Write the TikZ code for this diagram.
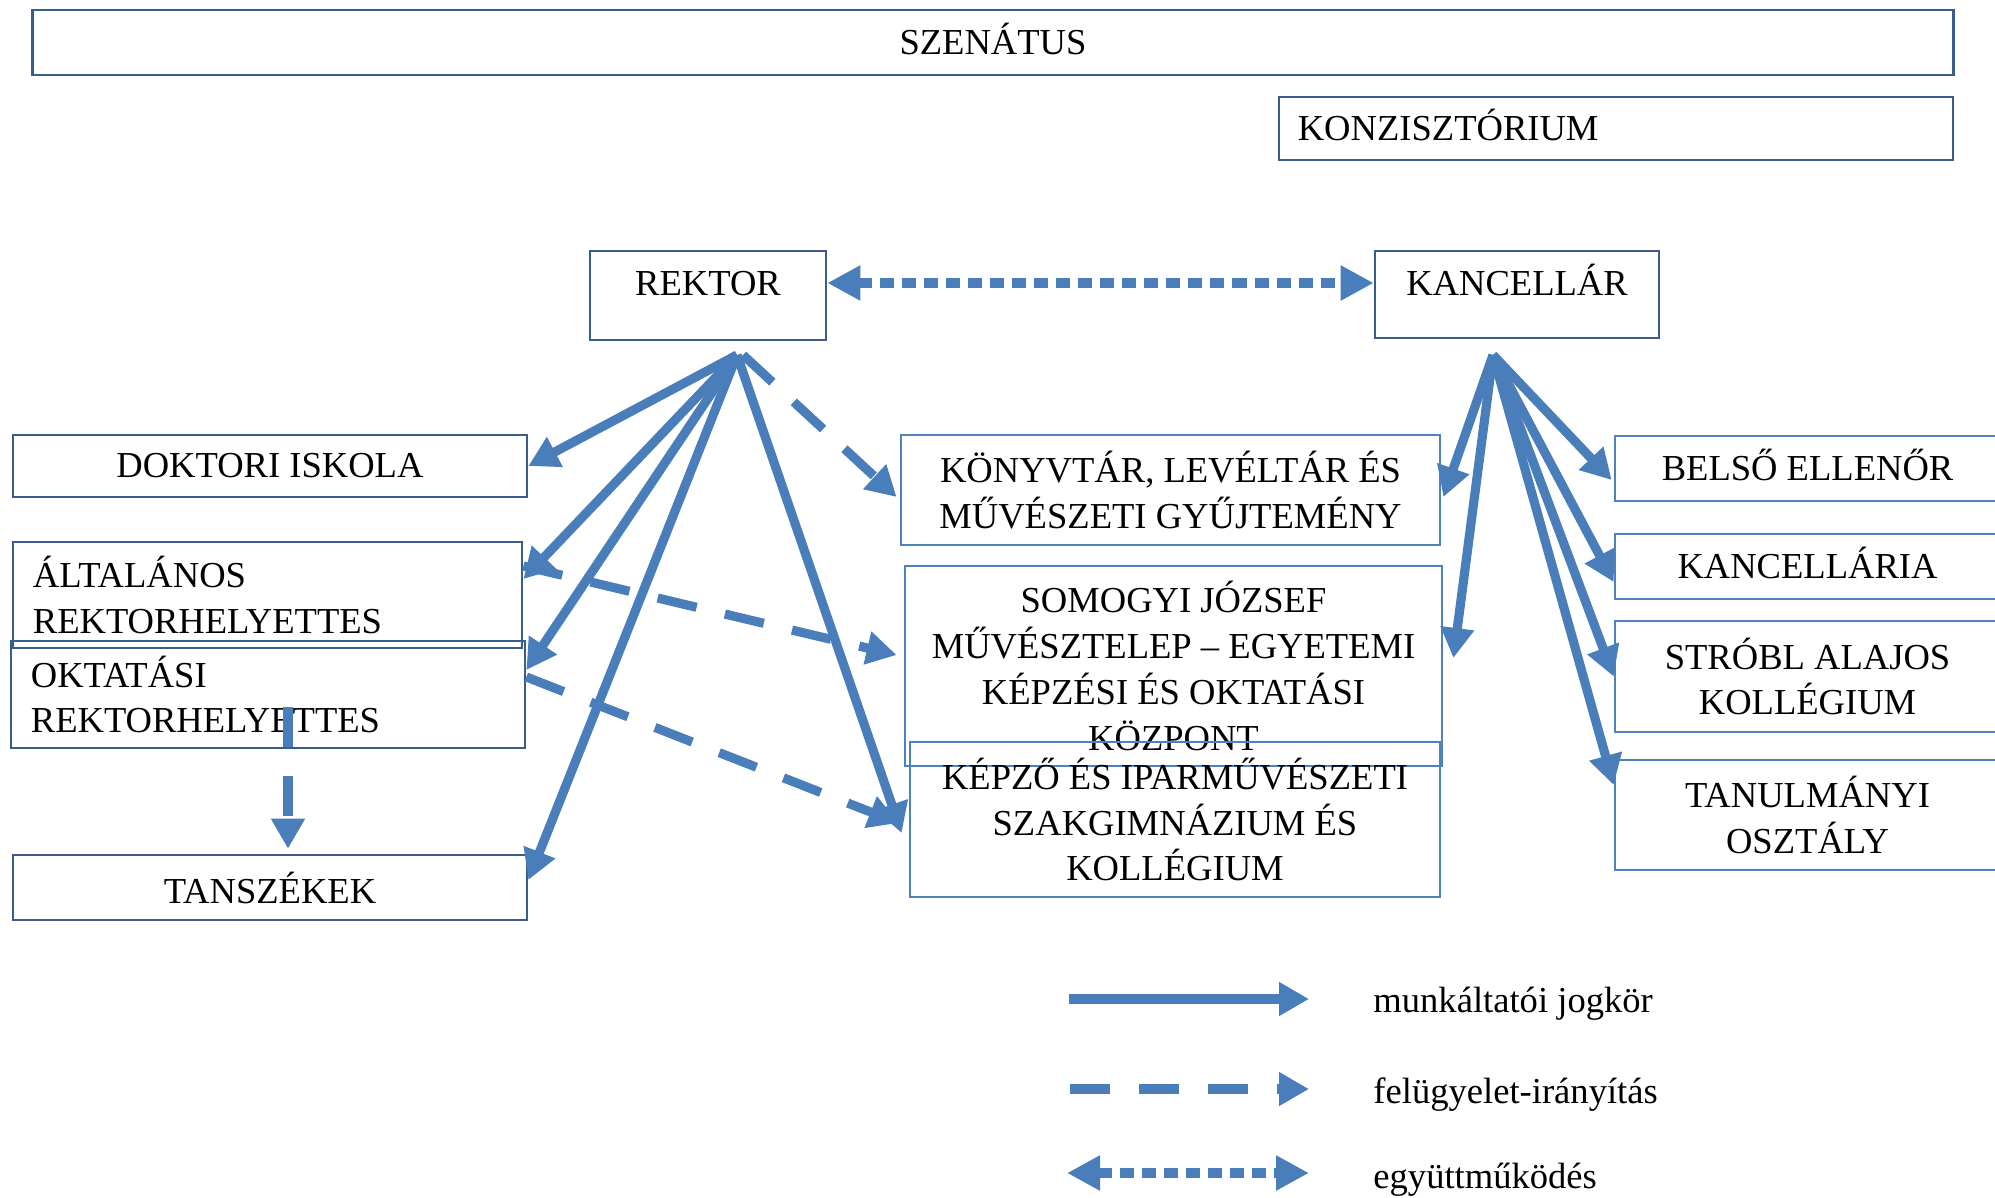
\documentclass[tikz,border=0pt]{standalone}
\usepackage{fontspec}
\setmainfont{Liberation Serif}
\usetikzlibrary{arrows.meta}

\begin{document}
\begin{tikzpicture}[x=0.01cm,y=-0.01cm,font=\fontsize{10.4}{13}\selectfont]
\definecolor{darkline}{RGB}{56,93,138}
\definecolor{lightline}{RGB}{79,129,189}
\definecolor{arrowblue}{RGB}{74,126,187}
\tikzstyle{box}=[draw=darkline,line width=0.7pt,inner sep=0pt,align=center]
\tikzstyle{lbox}=[box,draw=lightline]
\tikzstyle{employ}=[draw=arrowblue,line width=2.6pt,-{Triangle[length=0.3cm,width=0.32cm]}]
\tikzstyle{supervise}=[employ,dash pattern=on 0.4cm off 0.29cm]
\tikzstyle{coop}=[draw=arrowblue,line width=3pt,dash pattern=on 0.14cm off 0.08cm,{Triangle[length=0.33cm,width=0.33cm]}-{Triangle[length=0.33cm,width=0.33cm]}]
\useasboundingbox (0,0) rectangle (1995,1197);
\clip (0,0) rectangle (1995,1197);
\node[box,minimum width=19.2cm,minimum height=0.65cm,text depth=0.08cm] (szenatus) at (993,42.5) {SZENÁTUS};
\node[box,minimum height=0.63cm,text width=6.36cm,inner xsep=0.19cm,align=left,text depth=0.08cm] (konz) at (1616,128.5) {KONZISZTÓRIUM};
\node[box,minimum width=2.36cm,minimum height=0.89cm,label={[yshift=0.115cm]center:REKTOR}] (rektor) at (708,295.5) {};
\node[box,minimum width=2.84cm,minimum height=0.87cm,label={[yshift=0.145cm]center:KANCELLÁR}] (kanc) at (1517,294.5) {};
\node[box,minimum width=5.14cm,minimum height=0.62cm] (dokt) at (270,466) {DOKTORI ISKOLA};
\node[box,minimum height=1.06cm,text width=4.69cm,inner xsep=0.2cm,align=left] (alt) at (267.5,595) {ÁLTALÁNOS\\REKTORHELYETTES};
\node[box,minimum height=1.07cm,text width=4.74cm,inner xsep=0.2cm,align=left] (okt) at (268,694.5) {OKTATÁSI\\REKTORHELYETTES};
\node[box,minimum width=5.14cm,minimum height=0.65cm] (tansz) at (270,887.5) {TANSZÉKEK};
\node[lbox,minimum width=5.39cm,minimum height=1.1cm] (konyv) at (1170.5,490) {KÖNYVTÁR, LEVÉLTÁR ÉS\\MŰVÉSZETI GYŰJTEMÉNY};
\node[lbox,minimum width=5.37cm,minimum height=2cm] (somogyi) at (1173.5,666) {SOMOGYI JÓZSEF\\MŰVÉSZTELEP – EGYETEMI\\KÉPZÉSI ÉS OKTATÁSI\\KÖZPONT};
\node[lbox,minimum width=5.3cm,minimum height=1.55cm] (kepzo) at (1175,819.5) {KÉPZŐ ÉS IPARMŰVÉSZETI\\SZAKGIMNÁZIUM ÉS\\KOLLÉGIUM};
\node[lbox,minimum width=3.85cm,minimum height=0.65cm,text depth=0.08cm] (belso) at (1807.5,468.5) {BELSŐ ELLENŐR};
\node[lbox,minimum width=3.85cm,minimum height=0.65cm,text depth=0.08cm] (kancellaria) at (1807.5,566.5) {KANCELLÁRIA};
\node[lbox,minimum width=3.85cm,minimum height=1.11cm] (strobl) at (1807.5,676.5) {STRÓBL ALAJOS\\KOLLÉGIUM};
\node[lbox,minimum width=3.85cm,minimum height=1.1cm] (tanulm) at (1807.5,815) {TANULMÁNYI\\OSZTÁLY};
\coordinate (rhub) at (737,355);
\coordinate (khub) at (1493,355);
\coordinate (oktdown) at (288,707);
\path[coop] ([yshift=0.125cm]rektor.east) -- ([yshift=0.115cm]kanc.west);
\path[employ] (rhub) -- (dokt.east);
\path[employ] (rhub) -- ([yshift=0.16cm]alt.east);
\path[employ] (rhub) -- ([yshift=0.245cm]okt.east);
\path[employ] (rhub) -- ([yshift=0.075cm]tansz.east);
\path[employ] (rhub) -- ([xshift=-0.07cm,yshift=-0.135cm]kepzo.west);
\path[supervise] ([xshift=0.06cm]rhub) -- ([xshift=-0.03cm,yshift=-0.07cm]konyv.west);
\path[supervise] ([yshift=0.29cm]alt.east) -- ([xshift=-0.07cm,yshift=0.11cm]somogyi.west);
\path[supervise] ([yshift=0.175cm]okt.east) -- ([xshift=-0.1cm,yshift=-0.035cm]kepzo.west);
\path[supervise] (oktdown) -- ([yshift=0.05cm]tansz.north -| oktdown);
\path[employ] (khub) -- ([xshift=0.02cm,yshift=-0.07cm]konyv.east);
\path[employ] (khub) -- ([xshift=0.1cm,yshift=0.08cm]somogyi.east);
\path[employ] (khub) -- ([xshift=-0.02cm,yshift=-0.115cm]belso.west);
\path[employ] (khub) -- ([yshift=-0.155cm]kancellaria.west);
\path[employ] (khub) -- (strobl.west);
\path[employ] (khub) -- ([yshift=0.3cm]tanulm.west);
\coordinate (leg1a) at (1069,999);
\coordinate (leg1b) at (1309,999);
\coordinate (leg2a) at (1070,1089);
\coordinate (leg2b) at (1309,1089);
\coordinate (leg3a) at (1067,1173);
\coordinate (leg3b) at (1309,1173);
\path[employ] (leg1a) -- (leg1b);
\path[supervise] (leg2a) -- (leg2b);
\path[coop] (leg3a) -- (leg3b);
\node[anchor=west] (leg1) at (1361,1004) {munkáltatói jogkör};
\node[anchor=west] (leg2) at (1361,1095) {felügyelet-irányítás};
\node[anchor=west] (leg3) at (1361,1180) {együttműködés};
\end{tikzpicture}
\end{document}
